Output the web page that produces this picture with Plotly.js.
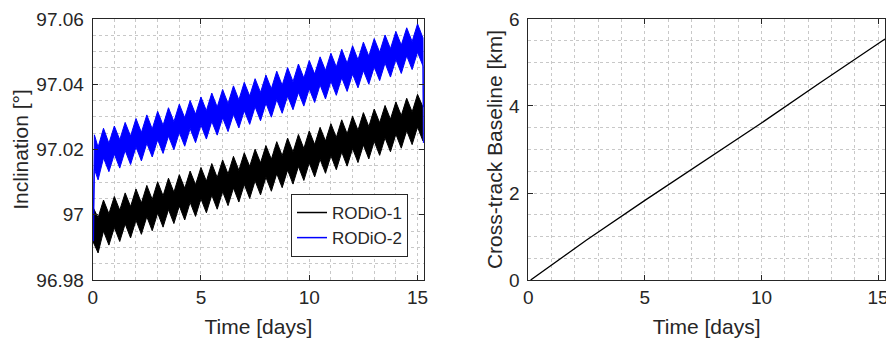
<!DOCTYPE html>
<html>
<head>
<meta charset="utf-8">
<script src="https://cdn.plot.ly/plotly-3.0.1.min.js"></script>
<style>html,body{margin:0;padding:0;background:#fff;}#chart{width:886px;height:339px;}</style>
</head>
<body>
<div id="chart"></div>
<script>
// ---- Left panel: inclination envelopes (upper / lower edge of the dense oscillation band) ----
const tR1 = [0,0.25,0.5,0.75,1,1.25,1.5,1.75,2,2.25,2.5,2.75,3,3.25,3.5,3.75,4,4.25,4.5,4.75,5,5.25,5.5,5.75,6,6.25,6.5,6.75,7,7.25,7.5,7.75,8,8.25,8.5,8.75,9,9.25,9.5,9.75,10,10.25,10.5,10.75,11,11.25,11.5,11.75,12,12.25,12.5,12.75,13,13.25,13.5,13.75,14,14.25,14.5,14.75,15,15.25];
const incR1Upper = [97.0025,96.9991,97.0045,97.0003,97.0056,97.0014,97.0067,97.0025,97.0079,97.0036,97.0090,97.0047,97.0101,97.0058,97.0112,97.0069,97.0123,97.0081,97.0134,97.0092,97.0145,97.0103,97.0157,97.0114,97.0168,97.0125,97.0179,97.0136,97.0190,97.0148,97.0201,97.0159,97.0212,97.0170,97.0224,97.0181,97.0235,97.0192,97.0246,97.0203,97.0257,97.0215,97.0268,97.0226,97.0279,97.0237,97.0291,97.0248,97.0302,97.0259,97.0313,97.0270,97.0324,97.0282,97.0335,97.0293,97.0346,97.0304,97.0357,97.0315,97.0369,97.0330];
const incR1Lower = [96.9920,96.9883,96.9950,96.9907,96.9961,96.9918,96.9972,96.9929,96.9983,96.9940,96.9994,96.9951,97.0005,96.9962,97.0016,96.9973,97.0027,96.9984,97.0038,96.9995,97.0049,97.0006,97.0060,97.0017,97.0071,97.0028,97.0082,97.0039,97.0093,97.0050,97.0104,97.0061,97.0115,97.0072,97.0126,97.0083,97.0137,97.0094,97.0148,97.0105,97.0159,97.0116,97.0170,97.0127,97.0181,97.0138,97.0192,97.0149,97.0203,97.0160,97.0214,97.0171,97.0225,97.0182,97.0236,97.0193,97.0247,97.0204,97.0258,97.0215,97.0269,97.0226];

const tR2 = [0,0.04,0.08,0.25,0.5,0.75,1,1.25,1.5,1.75,2,2.25,2.5,2.75,3,3.25,3.5,3.75,4,4.25,4.5,4.75,5,5.25,5.5,5.75,6,6.25,6.5,6.75,7,7.25,7.5,7.75,8,8.25,8.5,8.75,9,9.25,9.5,9.75,10,10.25,10.5,10.75,11,11.25,11.5,11.75,12,12.25,12.5,12.75,13,13.25,13.5,13.75,14,14.25,14.5,14.75,15,15.25,15.27];
const incR2Upper = [97.0025,97.0025,97.0245,97.0207,97.0265,97.0219,97.0272,97.0230,97.0283,97.0241,97.0295,97.0252,97.0306,97.0263,97.0317,97.0274,97.0328,97.0285,97.0339,97.0297,97.0350,97.0308,97.0361,97.0319,97.0373,97.0330,97.0384,97.0341,97.0395,97.0352,97.0406,97.0364,97.0417,97.0375,97.0428,97.0386,97.0440,97.0397,97.0451,97.0408,97.0462,97.0419,97.0473,97.0431,97.0484,97.0442,97.0495,97.0453,97.0507,97.0464,97.0518,97.0475,97.0529,97.0486,97.0540,97.0498,97.0551,97.0509,97.0562,97.0520,97.0573,97.0531,97.0585,97.0542,97.0330];
const incR2Lower = [96.9920,96.9920,97.0140,97.0107,97.0174,97.0132,97.0186,97.0143,97.0197,97.0154,97.0208,97.0165,97.0219,97.0177,97.0230,97.0188,97.0241,97.0199,97.0252,97.0210,97.0264,97.0221,97.0275,97.0232,97.0286,97.0244,97.0297,97.0255,97.0308,97.0266,97.0319,97.0277,97.0331,97.0288,97.0342,97.0299,97.0353,97.0311,97.0364,97.0322,97.0375,97.0333,97.0386,97.0344,97.0398,97.0355,97.0409,97.0366,97.0420,97.0378,97.0431,97.0389,97.0442,97.0400,97.0453,97.0411,97.0465,97.0422,97.0476,97.0433,97.0487,97.0445,97.0498,97.0456,97.0220];

// ---- Right panel: cross-track baseline ----
const tBase = [0.1, 2.5, 5, 7.5, 10, 12.5, 15.3];
const baselineKm = [0, 0.92, 1.83, 2.72, 3.61, 4.53, 5.54];

const seriesNames = ['RODiO-1', 'RODiO-2'];
const seriesColors = ['#000000', '#0000ff'];

const txt = '#262626';
const gridC = '#c8c8c8';
const font = {family: 'Liberation Sans, Arial, Helvetica, sans-serif', color: txt};

function band(t, lo, hi, color) {
  return [
    {x: t, y: lo, type: 'scatter', mode: 'lines', line: {color: color, width: 1}, showlegend: false, hoverinfo: 'skip', xaxis: 'x', yaxis: 'y'},
    {x: t, y: hi, type: 'scatter', mode: 'lines', line: {color: color, width: 1}, fill: 'tonexty', fillcolor: color, showlegend: false, hoverinfo: 'skip', xaxis: 'x', yaxis: 'y'}
  ];
}

const data = [
  ...band(tR1, incR1Lower, incR1Upper, seriesColors[0]),
  ...band(tR2, incR2Lower, incR2Upper, seriesColors[1]),
  {x: [null], y: [null], type: 'scatter', mode: 'lines', name: seriesNames[0], line: {color: seriesColors[0], width: 1.5}, xaxis: 'x', yaxis: 'y'},
  {x: [null], y: [null], type: 'scatter', mode: 'lines', name: seriesNames[1], line: {color: seriesColors[1], width: 1.5}, xaxis: 'x', yaxis: 'y'},
  {x: tBase, y: baselineKm, type: 'scatter', mode: 'lines', line: {color: '#000000', width: 1.3}, showlegend: false, xaxis: 'x2', yaxis: 'y2'}
];

function ax(extra) {
  return Object.assign({
    showline: true, linecolor: txt, linewidth: 1, mirror: 'ticks',
    ticks: 'inside', ticklen: 5, tickcolor: txt, tickwidth: 1,
    showgrid: true, gridcolor: gridC, griddash: 'dot', gridwidth: 1,
    zeroline: false, tickfont: {size: 19, family: font.family, color: txt},
    ticklabeloverflow: 'allow',
    fixedrange: true
  }, extra);
}

const layout = {
  width: 886, height: 339,
  margin: {l: 0, r: 0, t: 0, b: 0},
  paper_bgcolor: '#ffffff', plot_bgcolor: '#ffffff',
  font: font,
  showlegend: true,
  legend: {x: 0.4605, y: 0.242, xanchor: 'right', yanchor: 'bottom', bgcolor: '#ffffff', bordercolor: txt, borderwidth: 1,
           traceorder: 'normal',
           font: {size: 17, family: font.family, color: txt}, tracegroupgap: 0},
  xaxis: ax({domain: [0.1046, 0.4786], range: [0, 15.3], tick0: 0, dtick: 5, anchor: 'y',
             minor: {dtick: 1, showgrid: true, gridcolor: gridC, griddash: 'dot', ticks: ''},
             title: {text: 'Time [days]', font: {size: 21, family: font.family, color: txt}, standoff: 12}}),
  yaxis: ax({domain: [0.174, 0.944], range: [96.98, 97.06], tick0: 96.98, dtick: 0.02, anchor: 'x',
             minor: {dtick: 0.005, showgrid: true, gridcolor: gridC, griddash: 'dot', ticks: ''},
             ticklabelstandoff: 4,
             title: {text: 'Inclination [°]', font: {size: 21, family: font.family, color: txt}, standoff: 1}}),
  xaxis2: ax({domain: [0.5963, 0.9989], range: [0, 15.3], tick0: 0, dtick: 5, anchor: 'y2',
             minor: {dtick: 1, showgrid: true, gridcolor: gridC, griddash: 'dot', ticks: ''},
             title: {text: 'Time [days]', font: {size: 21, family: font.family, color: txt}, standoff: 12}}),
  yaxis2: ax({domain: [0.174, 0.944], range: [0, 6], tick0: 0, dtick: 2, anchor: 'x2',
             minor: {dtick: 0.5, showgrid: true, gridcolor: gridC, griddash: 'dot', ticks: ''},
             ticklabelstandoff: 4,
             title: {text: 'Cross-track Baseline [km]', font: {size: 21, family: font.family, color: txt}, standoff: 0}})
};

Plotly.newPlot('chart', data, layout, {staticPlot: true, displayModeBar: false});
</script>
</body>
</html>
